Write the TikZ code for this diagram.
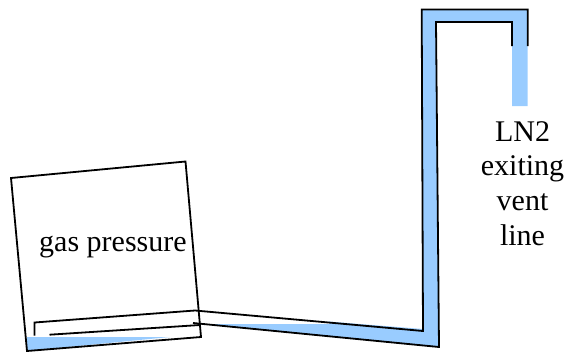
\documentclass[tikz,border=0pt]{standalone}
\usepackage{fontspec}
\setmainfont{Liberation Serif}
\definecolor{lnblue}{HTML}{99CCFF}
\tikzset{
  wall/.style={draw=black,line width=1.8pt,line join=miter,line cap=butt},
  liquid/.style={fill=lnblue,draw=none},
  lbl/.style={font=\fontsize{30}{36}\selectfont,inner sep=0pt,align=center,text=black}
}
\begin{document}
\begin{tikzpicture}[x=1pt,y=-1pt]
\useasboundingbox (0,0) rectangle (565,351);
% liquid
\fill[liquid] (27,337) -- (170,337) -- (27,351) -- cycle;
\fill[liquid] (200,324) -- (330,324) -- (328,321.5) -- (423,329) -- (421.7,9.5) -- (527.7,9.5) -- (527.7,106) -- (512,106) -- (512,22) -- (436,22) -- (439,347) -- (422,345.5) -- cycle;
% vessel
\coordinate (va) at (11,178);
\coordinate (vb) at (185.5,161.5);
\coordinate (vc) at (201,337);
\coordinate (vd) at (27,351);
\draw[wall] (va) -- (vb) -- (vc) -- (vd) -- cycle;
% tube
\coordinate (t0) at (34.5,335.5);
\coordinate (t1) at (34.5,322.5);
\coordinate (t2) at (195,310.5);
\coordinate (t3) at (423,331);
\coordinate (t4) at (421.7,9.5);
\coordinate (t5) at (527.7,9.5);
\coordinate (t6) at (527.7,46);
\draw[wall] (t0) -- (t1) -- (t2) -- (t3) -- (t4) -- (t5) -- (t6);
\coordinate (u0) at (49.5,334.7);
\coordinate (u1) at (200,325);
\draw[wall] (u0) -- (u1);
\coordinate (w0) at (193,323);
\coordinate (w1) at (439,347);
\coordinate (w2) at (436,22);
\coordinate (w3) at (512,22);
\coordinate (w4) at (512,46);
\draw[wall] (w0) -- (w1) -- (w2) -- (w3) -- (w4);
% labels
\node[lbl,anchor=base west] (gas) at (39,251) {gas pressure};
\node[lbl,anchor=base] (l1) at (522.5,141) {LN2};
\node[lbl,anchor=base] (l2) at (522.5,175.5) {exiting};
\node[lbl,anchor=base] (l3) at (522.5,210) {vent};
\node[lbl,anchor=base] (l4) at (522.5,245) {line};
\end{tikzpicture}
\end{document}
